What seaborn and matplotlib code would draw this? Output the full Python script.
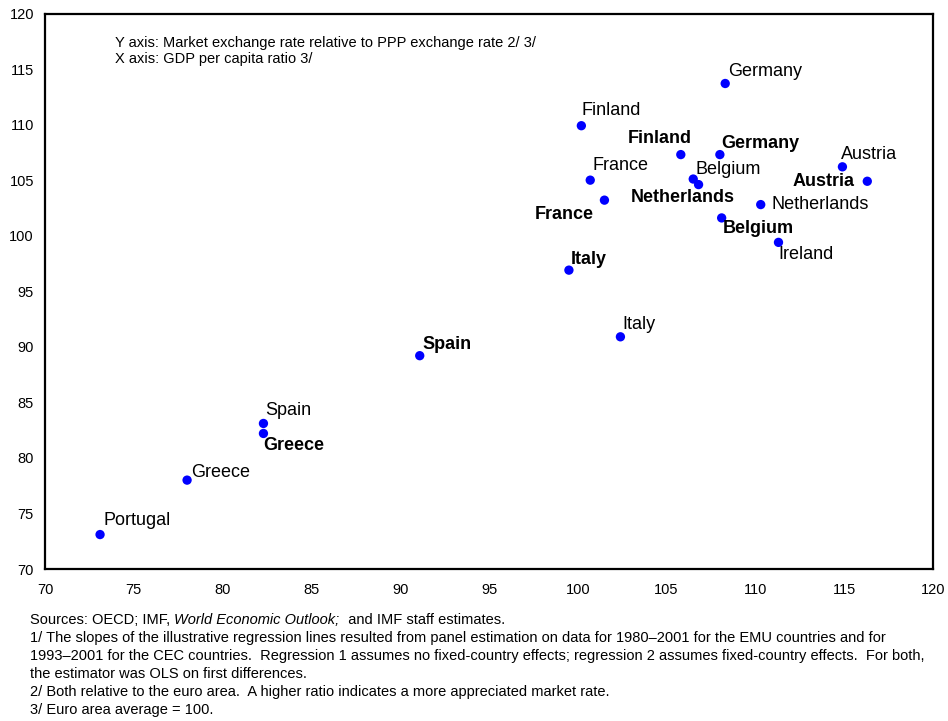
import matplotlib
matplotlib.use("Agg")
import matplotlib.pyplot as plt
import seaborn as sns
import pandas as pd

# ---- data ----
names_1 = ["Portugal", "Greece", "Spain", "Italy", "Finland", "France", "Belgium",
           "Germany", "Austria", "Netherlands", "Ireland"]
x_1 = [73.1, 78.0, 82.3, 102.4, 100.2, 100.7, 106.5, 108.3, 114.9, 110.3, 111.3]
y_1 = [73.1, 78.0, 83.1, 90.9, 109.9, 105.0, 105.1, 113.7, 106.2, 102.8, 99.4]

names_2 = ["Greece", "Spain", "Italy", "France", "Finland", "Germany", "Netherlands",
           "Belgium", "Austria"]
x_2 = [82.3, 91.1, 99.5, 101.5, 105.8, 108.0, 106.8, 108.1, 116.3]
y_2 = [82.2, 89.2, 96.9, 103.2, 107.3, 107.3, 104.6, 101.6, 104.9]

x_ticks = [70, 75, 80, 85, 90, 95, 100, 105, 110, 115, 120]
y_ticks = [70, 75, 80, 85, 90, 95, 100, 105, 110, 115, 120]

# label placement (pixel offsets from the point, horizontal alignment)
offs_1 = {"Portugal": (3, 14, "left"), "Greece": (4, 8, "left"), "Spain": (2, 13, "left"),
          "Italy": (2, 12, "left"), "Finland": (0, 15, "left"), "France": (2, 15, "left"),
          "Belgium": (2, 10, "left"), "Germany": (3, 12, "left"), "Austria": (-1, 12, "left"),
          "Netherlands": (11, 0, "left"), "Ireland": (0, -12, "left")}
offs_2 = {"Greece": (0, -12, "left"), "Spain": (3, 11, "left"), "Italy": (2, 11, "left"),
          "France": (-11, -14, "right"), "Finland": (11, 16, "right"), "Germany": (1, 11, "left"),
          "Netherlands": (36, -13, "right"), "Belgium": (1, -11, "left"), "Austria": (-13, 0, "right")}

df = pd.DataFrame({
    "x": x_1 + x_2,
    "y": y_1 + y_2,
    "name": names_1 + names_2,
    "series": ["1"] * len(x_1) + ["2"] * len(x_2),
})

sns.set_style("white")
plt.rcParams["font.family"] = ["Liberation Sans", "DejaVu Sans"]
plt.rcParams["text.color"] = "black"

fig = plt.figure(figsize=(9.48, 7.21), dpi=100)
ax = fig.add_axes([45 / 948, 1 - 569 / 721, (933 - 45) / 948, (569 - 13.5) / 721])

sns.scatterplot(data=df, x="x", y="y", ax=ax, color="#0000FF", s=45,
                edgecolor="none", legend=False, zorder=3)

for n, xv, yv in zip(names_1, x_1, y_1):
    dx, dy, ha = offs_1[n]
    ax.annotate(n, (xv, yv), xytext=(dx, dy), textcoords="offset pixels",
                ha=ha, va="center", fontsize=13, color="black")
for n, xv, yv in zip(names_2, x_2, y_2):
    dx, dy, ha = offs_2[n]
    ax.annotate(n, (xv, yv), xytext=(dx, dy), textcoords="offset pixels",
                ha=ha, va="center", fontsize=13, fontweight="bold", color="black")

ax.set_xlim(70, 120)
ax.set_ylim(70, 120)
ax.set_xticks(x_ticks)
ax.set_yticks(y_ticks)
ax.set_xlabel("")
ax.set_ylabel("")
for sp in ax.spines.values():
    sp.set_visible(True)
    sp.set_color("black")
    sp.set_linewidth(1.6)
ax.tick_params(axis="both", direction="in", length=4, width=1.2, color="black",
               labelsize=10.5, labelcolor="black")
ax.tick_params(axis="x", pad=10)
ax.tick_params(axis="y", pad=8)

fig.text(115 / 948, 1 - 42.7 / 721, "Y axis: Market exchange rate relative to PPP exchange rate 2/ 3/",
         fontsize=10.5, va="center", ha="left", color="black")
fig.text(115 / 948, 1 - 59.3 / 721, "X axis: GDP per capita ratio 3/",
         fontsize=10.5, va="center", ha="left", color="black")

fs = 10.5
left = 30 / 948
t1 = fig.text(left, 1 - 620 / 721, "Sources: OECD; IMF, ", fontsize=fs, va="center", ha="left",
              color="black")
ann2 = ax.annotate("World Economic Outlook;", xy=(1, 0), xycoords=t1, va="bottom", ha="left",
                   fontsize=fs, style="italic", annotation_clip=False, color="black")
ax.annotate("  and IMF staff estimates.", xy=(1, 0), xycoords=ann2, va="bottom", ha="left",
            fontsize=fs, annotation_clip=False, color="black")

notes = [
    "1/ The slopes of the illustrative regression lines resulted from panel estimation on data for 1980\u20132001 for the EMU countries and for",
    "1993\u20132001 for the CEC countries.  Regression 1 assumes no fixed-country effects; regression 2 assumes fixed-country effects.  For both,",
    "the estimator was OLS on first differences.",
    "2/ Both relative to the euro area.  A higher ratio indicates a more appreciated market rate.",
    "3/ Euro area average = 100.",
]
for i, line in enumerate(notes):
    fig.text(left, 1 - (638 + 18 * i) / 721, line, fontsize=fs, va="center", ha="left",
             color="black")

fig.savefig("out.png", dpi=100)
